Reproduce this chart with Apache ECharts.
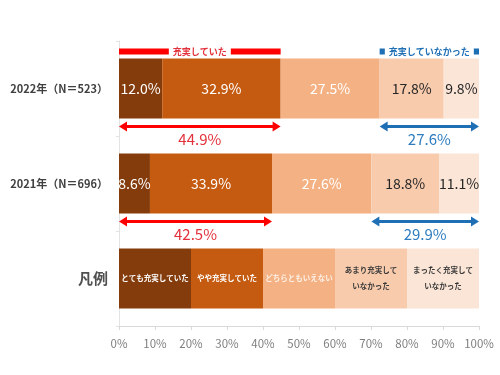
<!DOCTYPE html>
<html><head><meta charset="utf-8">
<script src="https://cdn.jsdelivr.net/npm/echarts@6/dist/echarts.min.js"></script>
<style>html,body{margin:0;padding:0;background:#fff}#c{width:500px;height:375px}</style>
</head><body><div id="c"></div>
<script>
const categories = ['2022年（N＝523）', '2021年（N＝696）', '凡例'];
const seriesNames = ['とても充実していた', 'やや充実していた', 'どちらともいえない', 'あまり充実して\nいなかった', 'まったく充実して\nいなかった'];
const v2022 = [12.0, 32.9, 27.5, 17.8, 9.8];
const v2021 = [8.6, 33.9, 27.6, 18.8, 11.1];
const legendRow = [20, 20, 20, 20, 20];
const fulfilled = [44.9, 42.5];
const notFulfilled = [27.6, 29.9];
const xTicks = [0, 10, 20, 30, 40, 50, 60, 70, 80, 90, 100];
const bracketLabels = ['充実していた', '充実していなかった'];

const colors = ['#843C0C', '#C55A11', '#F4B183', '#F8CBAD', '#FBE5D6'];
const valueColors = ['#ffffff', '#ffffff', '#ffffff', '#262626', '#262626'];
const legendTextColors = ['#ffffff', '#ffffff', '#fdf0e6', '#3a3a3a', '#3a3a3a'];
const FONT = '"Noto Sans CJK JP", "Noto Sans", sans-serif';

const chart = echarts.init(document.getElementById('c'));
const series = seriesNames.map((name, i) => ({
  name: name,
  type: 'bar',
  stack: 'total',
  barWidth: 60,
  itemStyle: { color: colors[i] },
  label: {
    show: true, position: 'inside', color: valueColors[i], fontSize: 14, fontFamily: FONT,
    formatter: p => p.value.toFixed(1) + '%'
  },
  data: [v2022[i], v2021[i], {
    value: legendRow[i],
    label: { color: legendTextColors[i], fontSize: 7.5, fontWeight: 'bold', lineHeight: 16, formatter: name }
  }]
}));

chart.setOption({
  animation: false,
  textStyle: { fontFamily: FONT },
  grid: { left: 119, right: 21, top: 41, bottom: 49, containLabel: false, outerBoundsMode: 'none' },
  xAxis: {
    type: 'value', min: 0, max: 100, interval: 10,
    axisLine: { show: true, lineStyle: { color: '#d9d9d9' } },
    axisTick: { show: true, length: 4, lineStyle: { color: '#d9d9d9' } },
    splitLine: { show: false },
    axisLabel: { color: '#7f7f7f', fontSize: 11.5, margin: 12, fontFamily: FONT,
      formatter: v => xTicks.includes(v) ? v + '%' : '' }
  },
  yAxis: {
    type: 'category', inverse: true, data: categories,
    axisLine: { show: true, lineStyle: { color: '#e3e3e3' } },
    axisTick: { show: true, length: 3, lineStyle: { color: '#e3e3e3' } },
    axisLabel: {
      margin: 11, color: '#404040', fontSize: 11, fontWeight: 'bold', fontFamily: FONT,
      formatter: v => v === '凡例' ? '{big|' + v + '}' : v,
      rich: { big: { fontSize: 15, fontWeight: 'bold', color: '#505050', fontFamily: FONT, padding: [0, 0, 0, 0] } }
    }
  },
  series: series
});

function px(x, row) { return chart.convertToPixel({ gridIndex: 0 }, [x, row]); }

function arrow(x0, x1, y, color) {
  const h = 5, l = 8;
  return [
    { type: 'line', shape: { x1: x0 + l - 1, y1: y, x2: x1 - l + 1, y2: y }, style: { stroke: color, lineWidth: 3 }, z: 10 },
    { type: 'polygon', shape: { points: [[x0, y], [x0 + l, y - h], [x0 + l, y + h]] }, style: { fill: color }, z: 10 },
    { type: 'polygon', shape: { points: [[x1, y], [x1 - l, y - h], [x1 - l, y + h]] }, style: { fill: color }, z: 10 }
  ];
}

const RED = '#FF0000', RED_T = '#E3313B', BLUE = '#1F6FB5', BLUE_T = '#2E7DBF';
const g = [];
[0, 1].forEach(row => {
  const a = px(0, row), b = px(fulfilled[row], row);
  const c = px(100 - notFulfilled[row], row), d = px(100, row);
  const ya = a[1] + 38, yl = a[1] + 51;
  g.push(...arrow(a[0], b[0], ya, RED));
  g.push(...arrow(c[0], d[0], ya, BLUE));
  g.push({ type: 'text', x: (a[0] + b[0]) / 2, y: yl, style: { text: fulfilled[row].toFixed(1) + '%', fill: RED_T, fontSize: 15, fontFamily: FONT, align: 'center', verticalAlign: 'middle' }, z: 10 });
  g.push({ type: 'text', x: (c[0] + d[0]) / 2, y: yl, style: { text: notFulfilled[row].toFixed(1) + '%', fill: BLUE_T, fontSize: 15, fontFamily: FONT, align: 'center', verticalAlign: 'middle' }, z: 10 });
});
// brackets above first row
{
  const a = px(0, 0), b = px(fulfilled[0], 0);
  const c = px(100 - notFulfilled[0], 0), d = px(100, 0);
  const yb = a[1] - 37;
  g.push({ type: 'rect', shape: { x: a[0], y: yb - 3, width: b[0] - a[0], height: 6 }, style: { fill: RED }, z: 10 });
  g.push({ type: 'text', x: (a[0] + b[0]) / 2, y: yb, style: { text: bracketLabels[0], fill: RED_T, fontSize: 9, fontWeight: 'bold', fontFamily: FONT, align: 'center', verticalAlign: 'middle', backgroundColor: '#fff', padding: [1, 4] }, z: 11 });
  g.push({ type: 'rect', shape: { x: c[0], y: yb - 3, width: d[0] - c[0], height: 6 }, style: { fill: BLUE }, z: 10 });
  g.push({ type: 'text', x: (c[0] + d[0]) / 2, y: yb, style: { text: bracketLabels[1], fill: BLUE, fontSize: 9, fontWeight: 'bold', fontFamily: FONT, align: 'center', verticalAlign: 'middle', backgroundColor: '#fff', padding: [1, 4] }, z: 11 });
}
chart.setOption({ graphic: g });
</script></body></html>
